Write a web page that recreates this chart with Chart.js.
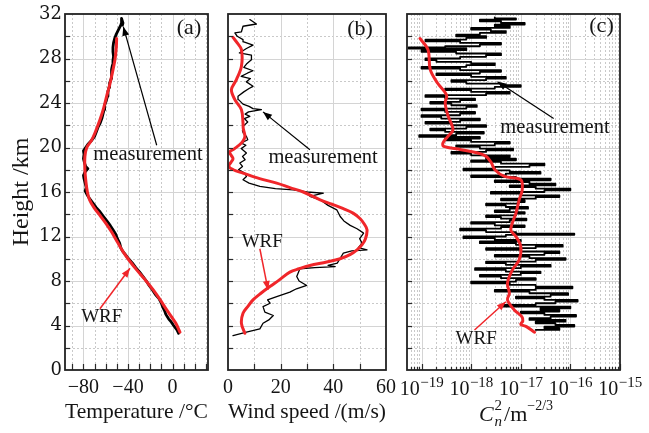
<!DOCTYPE html>
<html><head><meta charset="utf-8">
<script src="https://cdn.jsdelivr.net/npm/chart.js@4"></script>
<style>
html,body{margin:0;padding:0;background:#fff;width:649px;height:433px;overflow:hidden}
canvas.c{position:absolute;left:0;top:0}
</style></head><body>
<canvas id="ca" class="c" width="649" height="433"></canvas>
<canvas id="cb" class="c" width="649" height="433"></canvas>
<canvas id="cc" class="c" width="649" height="433"></canvas>
<script>
// ---------------- data ----------------
const heightLabels = [0, 4, 8, 12, 16, 20, 24, 28, 32];          // km
const tempLabels   = [-80, -40, 0];                               // °C
const windLabels   = [0, 20, 40, 60];                             // m/s
const cn2Labels    = [1e-19, 1e-18, 1e-17, 1e-16, 1e-15];         // m^-2/3

// [height km, temperature °C]
const tempMeasured = [[3.3,5.5],[3.6,4.0],[4.0,1.0],[4.3,-1.0],[4.6,-3.5],[5.0,-6.0],[5.3,-7.0],[5.6,-8.5],[6.0,-10.0],[6.4,-12.0],[6.8,-15.5],[7.2,-18.0],[7.6,-21.0],[8.0,-23.5],[8.4,-26.5],[8.8,-29.5],[9.2,-33.0],[9.6,-36.0],[10.0,-39.5],[10.4,-42.5],[10.7,-45.0],[11.0,-46.5],[11.4,-47.5],[11.8,-49.5],[12.2,-51.0],[12.6,-53.5],[13.0,-56.0],[13.4,-59.0],[13.8,-62.0],[14.2,-65.0],[14.6,-68.5],[15.0,-71.5],[15.4,-74.5],[15.8,-77.0],[16.1,-78.5],[16.4,-77.5],[16.8,-78.5],[17.2,-79.5],[17.5,-80.0],[17.8,-78.5],[18.1,-76.0],[18.3,-78.0],[18.6,-79.0],[19.0,-80.0],[19.4,-79.5],[19.7,-80.0],[20.0,-78.0],[20.3,-76.0],[20.6,-73.0],[21.0,-70.0],[21.4,-68.5],[21.8,-67.0],[22.2,-65.0],[22.6,-63.5],[23.0,-62.5],[23.4,-61.5],[23.8,-61.0],[24.2,-59.5],[24.6,-58.5],[25.0,-58.0],[25.4,-57.0],[25.8,-56.5],[26.2,-55.0],[26.6,-55.0],[27.0,-54.5],[27.4,-54.0],[27.8,-53.5],[28.2,-53.0],[28.6,-53.5],[29.0,-53.5],[29.4,-53.0],[29.8,-52.0],[30.2,-50.5],[30.6,-48.5],[31.0,-46.5],[31.3,-45.5],[31.6,-45.8],[31.2,-44.5],[31.0,-45.0]];
const tempWRF = [[3.4,6.7],[4.2,3.0],[4.8,-1.0],[5.4,-5.2],[6.3,-11.0],[7.2,-17.3],[8.1,-24.5],[9.0,-32.2],[9.8,-38.5],[10.6,-44.2],[11.5,-49.5],[12.4,-54.7],[13.2,-60.0],[13.9,-65.2],[14.6,-70.5],[15.3,-74.5],[16.0,-76.5],[16.9,-77.8],[18.0,-78.7],[19.2,-78.7],[20.0,-77.0],[20.6,-73.0],[21.3,-69.7],[22.5,-65.2],[23.5,-62.0],[24.6,-59.2],[25.6,-56.5],[26.4,-54.7],[27.9,-51.7],[29.0,-50.5],[29.8,-50.2]];

// [height km, wind speed m/s]
const windMeasured = [[3.1,1.9],[3.4,7],[3.7,12.1],[4.2,13.3],[4.5,15.5],[4.9,17.2],[5.2,14],[5.7,13.3],[6.0,16],[6.3,15],[6.6,18.5],[6.8,21],[7.0,23.5],[7.3,26],[7.6,29.9],[8.0,27],[8.4,26.1],[8.8,26.8],[9.1,27.3],[9.2,33],[9.3,40.7],[9.4,38],[9.6,41.5],[10.0,42.5],[10.5,43.8],[10.7,47],[10.8,52.8],[11.0,49.5],[11.4,50.9],[11.8,50],[12.3,51.5],[12.7,49],[13.0,46.4],[13.4,44],[13.8,42.6],[14.4,41.3],[14.8,38],[15.3,35],[15.6,31.1],[15.9,36.2],[16.0,30],[16.2,24.8],[16.3,18],[16.5,12.1],[16.8,8],[17.1,5.7],[17.4,7],[17.7,6.4],[18.0,4],[18.3,5.5],[18.6,4.5],[18.9,6.5],[19.2,5.5],[19.5,7],[19.9,5],[20.2,6.8],[20.4,5.1],[20.7,7.5],[21.0,7],[21.3,5.8],[21.5,5.5],[21.9,5.7],[22.3,7.5],[22.6,6.2],[22.8,8.3],[23.0,6.5],[23.2,7.8],[23.4,12.7],[23.5,9.5],[23.7,8],[23.9,5.7],[24.3,4],[24.6,3.8],[25.0,6],[25.3,8],[25.5,9.5],[25.9,7],[26.2,8.5],[26.4,5],[26.7,7.5],[26.9,9.5],[27.2,6],[27.5,7],[27.9,9],[28.3,8.9],[28.5,4.3],[28.9,7],[29.2,9.5],[29.5,6],[29.7,5.7],[30.0,3.5],[30.3,2.6],[30.4,5.1],[30.9,5.7],[31.1,10.8],[31.5,8.3]];
const windWRF = [[3.3,6.4],[4.2,5.1],[5.1,5.7],[5.7,7.5],[6.3,9.5],[6.9,12.5],[7.5,15.9],[8.1,19.5],[8.8,23.5],[9.1,27],[9.4,31.1],[9.7,37.5],[10.0,42.6],[10.4,46.5],[10.8,49],[11.3,51],[11.8,52.2],[12.6,52.8],[13.1,51.8],[13.6,50.2],[14.1,47.5],[14.5,43.8],[14.9,39.5],[15.3,35],[16.0,28.6],[16.4,23.5],[16.8,18.5],[17.2,12],[17.7,5.7],[18.0,2],[18.3,0.3],[18.7,1.2],[19.0,1.9],[19.3,1.2],[19.6,0.6],[19.9,2.5],[20.4,5.1],[20.8,6.2],[21.1,6.4],[21.7,5.8],[22.2,5.7],[23.4,5.1],[24.3,2.6],[25.2,1.3],[26.1,3.2],[27.3,5.1],[28.8,5.1],[29.4,3.5],[29.9,1.9]];

// [height km, Cn2 m^-2/3]
const cn2Measured = [
 [3.6,2e-17],[3.75,6e-17],[3.9,3e-17],[4.05,1.2e-16],[4.2,5e-17],[4.35,2e-17],[4.5,8e-17],[4.65,1.5e-17],[4.8,4e-17],[4.95,1.3e-16],[5.1,3e-17],[5.25,1e-17],[5.4,6e-17],[5.55,2.5e-17],
 [5.7,1e-16],[5.85,4e-18],[6.0,2e-17],[6.15,5e-17],[6.3,1.4e-16],[6.45,3e-17],[6.6,8e-18],[6.75,4e-17],[6.9,9e-17],[7.05,1.5e-17],[7.2,3e-18],[7.35,2e-17],[7.5,1.1e-16],[7.65,2e-17],
 [7.8,6e-18],[7.95,1e-18],[8.1,8e-18],[8.25,2e-17],[8.4,4e-18],[8.55,1.5e-18],[8.7,1e-17],[8.85,2.5e-17],[9.0,5e-18],[9.15,1.2e-18],
 [9.3,1e-17],[9.45,4e-17],[9.6,5e-18],[9.75,2e-18],[9.9,2e-17],[10.05,8e-17],[10.2,1.5e-17],[10.35,3e-18],[10.5,3e-17],[10.65,6e-17],[10.8,1e-17],[10.95,2e-18],[11.1,2e-17],[11.25,7e-17],[11.4,8e-18],
 [11.55,1.5e-18],[11.7,1e-17],[11.85,3e-18],[12.0,7e-19],[12.15,5e-18],[12.25,1.2e-16],[12.4,8e-18],[12.55,2e-18],[12.7,6e-19],[12.85,4e-18],[13.0,1.2e-17],[13.15,3e-18],[13.3,1e-18],[13.45,6e-18],
 [13.6,1.3e-17],[13.75,4e-18],[13.9,2e-18],[14.05,8e-18],[14.2,1.2e-17],[14.35,3e-18],[14.5,6e-18],[14.65,1.4e-17],[14.8,5e-18],[14.95,2e-18],[15.1,9e-18],[15.25,1.2e-17],
 [15.4,4e-18],[15.55,2e-17],[15.7,6e-17],[15.85,1e-17],[16.0,2.5e-18],[16.15,3e-17],[16.3,1e-16],[16.45,2e-17],[16.6,6e-18],[16.75,5e-17],[16.9,1.5e-17],[17.05,3e-18],[17.2,4e-17],
 [17.35,8e-18],[17.5,1e-18],[17.65,5e-18],[17.8,2.5e-17],[17.95,6e-18],[18.1,7e-19],[18.25,3e-18],[18.4,1.5e-17],[18.55,3e-17],[18.7,4e-18],[18.85,1e-18],[19.0,8e-18],[19.15,2e-18],
 [19.3,6e-18],[19.45,1e-18],[19.6,4e-19],[19.75,2e-18],[19.9,7e-18],[20.05,1.5e-18],[20.2,5e-19],[20.35,3e-18],[20.5,6e-18],[20.65,1e-18],[20.8,3e-19],[20.95,1.5e-18],
 [21.1,9e-20],[21.25,5e-19],[21.4,1.8e-18],[21.55,3e-19],[21.7,1.5e-19],[21.85,8e-19],[22.0,2e-18],[22.15,4e-19],[22.3,1.2e-19],[22.45,6e-19],[22.6,1.5e-18],[22.75,2.5e-19],[22.9,1e-19],
 [23.05,6e-19],[23.2,1.2e-18],[23.35,3e-19],[23.5,1e-19],[23.65,8e-19],[23.8,1.3e-18],[23.95,4e-19],[24.1,1.5e-19],[24.25,6e-19],[24.4,1.2e-18],[24.55,3e-19],[24.7,1.2e-19],
 [24.85,2e-18],[25.0,6e-18],[25.15,1e-18],[25.3,3e-19],[25.45,3e-18],[25.6,1e-17],[25.75,4e-18],[25.9,8e-19],[26.05,4e-19],[26.2,2e-18],[26.35,5e-18],
 [26.5,1e-18],[26.65,2e-19],[26.8,1.5e-18],[26.95,4e-18],[27.1,6e-19],[27.25,1e-19],[27.4,8e-19],[27.55,3e-18],[27.7,1e-18],[27.85,2e-19],[28.0,1.2e-19],[28.15,6e-19],[28.3,2e-18],[28.45,4e-18],[28.6,5e-19],[28.75,1e-19],[28.9,8e-19],
 [29.0,5.5e-20],[29.1,3e-19],[29.25,1.5e-18],[29.4,4e-18],[29.55,6e-19],[29.7,1.2e-19],[29.85,8e-19],
 [30.0,2e-18],[30.15,5e-19],[30.3,1.5e-18],[30.45,5e-18],[30.6,2.5e-18],[30.75,1e-18],[30.9,6e-18],[31.05,3e-18],[31.2,1.2e-17],[31.35,4e-18],[31.5,1.5e-18],[31.6,8e-18],[31.7,3e-18]];
const cn2WRF = [[3.4,1.9e-17],[3.9,1.3e-17],[4.1,1.0e-17],[4.4,1.1e-17],[4.8,1.05e-17],[5.4,7.4e-18],[6.3,5.4e-18],[6.9,5.9e-18],[7.8,5.4e-18],[9.0,6.8e-18],[9.9,9.3e-18],[11.1,1.0e-17],[12.0,8e-18],[12.6,6.3e-18],[14.1,8e-18],[15.3,9.3e-18],[16.2,1.07e-17],[17.1,1.0e-17],[17.4,4.7e-18],[18.0,3e-18],[18.7,2.5e-18],[19.3,1.86e-18],[19.8,6.3e-19],[20.1,2.8e-19],[20.4,2.7e-19],[21.0,3.4e-19],[21.6,4.3e-19],[22.9,3.4e-19],[24.0,3e-19],[24.7,3.2e-19],[25.8,2.1e-19],[27.0,1.5e-19],[28.8,1.35e-19],[29.8,9.3e-20]];

// ---------------- styling / helpers ----------------
const RED = '#f0262a';
const INK = '#151515';
const SERIF = '"Liberation Serif", "DejaVu Serif", serif';
const toXY = arr => arr.map(p => ({x: p[1], y: p[0]}));
const minus = v => v < 0 ? '\u2212' + Math.abs(v) : String(v);
const expOf = v => Math.round(Math.log10(v));

function range(a, b, s){ const r=[]; for(let v=a; v<=b+1e-9; v+=s) r.push(+v.toFixed(6)); return r; }
const yTickVals  = range(2, 30, 2);
const yMajorGrid = range(4, 28, 4);
const yMinorGrid = range(2, 30, 4);
const logMinor = []; for (let e=-20; e<=-16; e++) for (let k=2; k<=9; k++) { const v=k*Math.pow(10,e); if (v>5.1e-20 && v<1e-15) logMinor.push(v); }

function arrowHead(ctx, x0, y0, x1, y1, len, wid){
  const a = Math.atan2(y1-y0, x1-x0);
  ctx.beginPath();
  ctx.moveTo(x1, y1);
  ctx.lineTo(x1 - len*Math.cos(a) + wid*Math.sin(a), y1 - len*Math.sin(a) - wid*Math.cos(a));
  ctx.lineTo(x1 - len*Math.cos(a) - wid*Math.sin(a), y1 - len*Math.sin(a) + wid*Math.cos(a));
  ctx.closePath(); ctx.fill();
}

function decor(spec){
  return {
    id: 'decor',
    beforeDatasetsDraw(chart){
      const {ctx, chartArea:a, scales:{x, y}} = chart;
      ctx.save();
      ctx.beginPath(); ctx.rect(a.left, a.top, a.right-a.left, a.bottom-a.top); ctx.clip();
      ctx.lineWidth = 1;
      const vline = v => { const p = Math.round(x.getPixelForValue(v)) + 0.5; ctx.beginPath(); ctx.moveTo(p, a.top); ctx.lineTo(p, a.bottom); ctx.stroke(); };
      const hline = v => { const p = Math.round(y.getPixelForValue(v)) + 0.5; ctx.beginPath(); ctx.moveTo(a.left, p); ctx.lineTo(a.right, p); ctx.stroke(); };
      ctx.strokeStyle = '#c9c9c9'; ctx.setLineDash([2, 2]);
      spec.xMinorGrid.forEach(vline); yMinorGrid.forEach(hline);
      ctx.setLineDash([]); ctx.strokeStyle = '#d4d4d4';
      spec.xMajorGrid.forEach(vline); yMajorGrid.forEach(hline);
      ctx.restore();
    },
    afterDatasetsDraw(chart){
      const {ctx, chartArea:a, scales:{x, y}} = chart;
      ctx.save();
      ctx.strokeStyle = '#2a2a2a'; ctx.lineWidth = 1.2;
      spec.xTicks.forEach(t => { const p = Math.round(x.getPixelForValue(t.v)) + 0.5; ctx.beginPath(); ctx.moveTo(p, a.bottom); ctx.lineTo(p, a.bottom - t.len); ctx.stroke(); });
      yTickVals.forEach(v => { const p = Math.round(y.getPixelForValue(v)) + 0.5; ctx.beginPath(); ctx.moveTo(a.left, p); ctx.lineTo(a.left + 5, p); ctx.stroke(); });
      ctx.lineWidth = 1.8; ctx.strokeStyle = '#222';
      ctx.strokeRect(a.left, a.top, a.right - a.left, a.bottom - a.top);
      ctx.restore();
    },
    afterDraw(chart){
      const {ctx, chartArea:a, scales:{x, y}} = chart;
      ctx.save();
      ctx.textAlign = 'center'; ctx.textBaseline = 'middle';
      ctx.fillStyle = INK; ctx.font = '22px ' + SERIF;
      ctx.fillText(spec.panel, a.right + spec.panelDx, a.top + spec.panelDy);
      spec.notes.forEach(n => {
        const col = n.red ? RED : '#000';
        const fx = x.getPixelForValue(n.from[0]), fy = y.getPixelForValue(n.from[1]);
        const tx = x.getPixelForValue(n.to[0]),   ty = y.getPixelForValue(n.to[1]);
        ctx.strokeStyle = col; ctx.fillStyle = col; ctx.lineWidth = n.red ? 1.5 : 1.2;
        ctx.beginPath(); ctx.moveTo(fx, fy); ctx.lineTo(tx, ty); ctx.stroke();
        arrowHead(ctx, fx, fy, tx, ty, 9, 3.5);
        ctx.fillStyle = INK; ctx.font = n.size + 'px ' + SERIF;
        ctx.fillText(n.text, x.getPixelForValue(n.at[0]), y.getPixelForValue(n.at[1]));
      });
      if (spec.cnTitle) {
        const w = (f, s) => { ctx.font = f; return ctx.measureText(s).width; };
        // decade tick labels 10^n with real superscript
        const fBase = '20px ' + SERIF, fSup = '15px ' + SERIF, base = a.bottom + 25;
        ctx.textAlign = 'left'; ctx.textBaseline = 'alphabetic'; ctx.fillStyle = INK;
        cn2Labels.forEach(v => {
          const e = '\u2212' + Math.abs(expOf(v));
          const wb = w(fBase, '10'), we = w(fSup, e);
          const x0 = x.getPixelForValue(v) - (wb + we) / 2;
          ctx.font = fBase; ctx.fillText('10', x0, base);
          ctx.font = fSup; ctx.fillText(e, x0 + wb + 0.5, base - 8);
        });
        // axis title C_n^2 / m^-2/3
        const cx = 516, tb = 421;
        const fBig = '22px ' + SERIF, fIt = 'italic 22px ' + SERIF, fSm = '15px ' + SERIF, fSmIt = 'italic 15px ' + SERIF, fExp = '14px ' + SERIF;
        const wC = w(fIt, 'C'), wSub = Math.max(w(fSmIt, 'n'), w(fSm, '2')), wM = w(fBig, '/m'), wE = w(fExp, '\u22122/3');
        const total = wC + 1 + wSub + 2 + wM + wE;
        const x0 = cx - total/2;
        ctx.font = fIt; ctx.fillText('C', x0, tb);
        ctx.font = fSmIt; ctx.fillText('n', x0 + wC + 1, tb + 5);
        ctx.font = fSm; ctx.fillText('2', x0 + wC + 1, tb - 11);
        ctx.font = fBig; ctx.fillText('/m', x0 + wC + 1 + wSub + 2, tb);
        ctx.font = fExp; ctx.fillText('\u22122/3', x0 + wC + 1 + wSub + 2 + wM, tb - 11);
      }
      ctx.restore();
    }
  };
}

const tickFont = {family: SERIF, size: 20};
function yScale(show){
  return {
    type: 'linear', min: 0, max: 32, display: show,
    grid: {display: false, drawTicks: false}, border: {display: false},
    afterBuildTicks: s => { s.ticks = heightLabels.map(v => ({value: v})); },
    afterFit: s => { s.width = show ? 65 : 0; },
    ticks: {autoSkip: false, padding: 3, color: INK, font: {family: '"DejaVu Serif", serif', size: 18}},
    title: {display: show, text: 'Height /km', color: INK, font: {family: SERIF, size: 24}, padding: {top: 7, bottom: 0}}
  };
}
function xTitle(text){ return {display: !!text, text: text || '', color: INK, font: {family: SERIF, size: 22}, padding: {top: 0, bottom: 8}}; }
function lineSet(data, color, width, tension, order, stepped){
  return {data: toXY(data), showLine: true, borderColor: color, backgroundColor: color, borderWidth: width, pointRadius: 0, tension: tension, order: order, stepped: !!stepped, borderJoinStyle: 'round', borderCapStyle: 'round'};
}
const common = {responsive: false, animation: false, devicePixelRatio: 1, events: [],
  plugins: {legend: {display: false}, tooltip: {enabled: false}}};

// ---------- (a) temperature ----------
new Chart(document.getElementById('ca'), {
  type: 'scatter',
  data: {datasets: [lineSet(tempMeasured, '#000', 2.8, 0, 2), lineSet(tempWRF, RED, 3, 0.35, 1)]},
  options: Object.assign({}, common, {
    layout: {padding: {left: 0, top: 14, right: 649 - 208, bottom: 0}},
    scales: {
      x: {type: 'linear', min: -96.6, max: 31.9,
          grid: {display: false, drawTicks: false}, border: {display: false},
          afterBuildTicks: s => { s.ticks = tempLabels.map(v => ({value: v})); },
          afterFit: s => { s.height = 63; },
          ticks: {autoSkip: false, maxRotation: 0, padding: 6, color: INK, font: tickFont, callback: v => minus(v)},
          title: xTitle('Temperature /\u00B0C')},
      y: yScale(true)
    }
  }),
  plugins: [decor({
    panel: '(a)', panelDx: -19, panelDy: 14,
    xTicks: range(-90, 30, 10).map(v => ({v, len: 6})),
    xMajorGrid: [-80, -40, 0], xMinorGrid: [-90, -70, -60, -50, -30, -20, -10, 10, 20, 30],
    notes: [
      {text: 'measurement', size: 20.5, at: [-22, 19.4], from: [-14.2, 20.2], to: [-44.2, 30.86]},
      {text: 'WRF', size: 19, red: true, at: [-63.6, 4.8], from: [-65.2, 5.5], to: [-38.2, 9.14]}
    ]
  })]
});

// ---------- (b) wind speed ----------
new Chart(document.getElementById('cb'), {
  type: 'scatter',
  data: {datasets: [lineSet(windMeasured, '#000', 1.3, 0, 2), lineSet(windWRF, RED, 3, 0.35, 1)]},
  options: Object.assign({}, common, {
    layout: {padding: {left: 228, top: 14, right: 649 - 386, bottom: 0}},
    scales: {
      x: {type: 'linear', min: 0, max: 60,
          grid: {display: false, drawTicks: false}, border: {display: false},
          afterBuildTicks: s => { s.ticks = windLabels.map(v => ({value: v})); },
          afterFit: s => { s.height = 63; },
          ticks: {autoSkip: false, maxRotation: 0, padding: 6, color: INK, font: tickFont},
          title: xTitle('Wind speed /(m/s)')},
      y: yScale(false)
    }
  }),
  plugins: [decor({
    panel: '(b)', panelDx: -26, panelDy: 15,
    xTicks: [10, 20, 30, 40, 50].map(v => ({v, len: 6})),
    xMajorGrid: [20, 40], xMinorGrid: [10, 30, 50],
    notes: [
      {text: 'measurement', size: 20.5, at: [36.1, 19.06], from: [31.1, 19.8], to: [13.3, 23.2]},
      {text: 'WRF', size: 19, red: true, at: [13.0, 11.53], from: [12.1, 10.9], to: [15.2, 7.2]}
    ]
  })]
});

// ---------- (c) Cn2 ----------
new Chart(document.getElementById('cc'), {
  type: 'scatter',
  data: {datasets: [lineSet(cn2Measured, '#000', 1.8, 0, 2, true), lineSet(cn2WRF, RED, 3, 0.35, 1)]},
  options: Object.assign({}, common, {
    layout: {padding: {left: 407, top: 14, right: 649 - 620, bottom: 0}},
    scales: {
      x: {type: 'logarithmic', min: 5.1e-20, max: 1e-15,
          grid: {display: false, drawTicks: false}, border: {display: false},
          afterBuildTicks: s => { s.ticks = cn2Labels.map(v => ({value: v})); },
          afterFit: s => { s.height = 63; },
          ticks: {display: false},
          title: xTitle('')},
      y: yScale(false)
    }
  }),
  plugins: [decor({
    panel: '(c)', panelDx: -18.5, panelDy: 12, cnTitle: true,
    xTicks: cn2Labels.map(v => ({v, len: 6})).concat(logMinor.map(v => ({v, len: 3}))),
    xMajorGrid: cn2Labels, xMinorGrid: logMinor,
    notes: [
      {text: 'measurement', size: 20.5, at: [4.9e-17, 21.8], from: [4.6e-17, 22.6], to: [3.4e-18, 25.9]},
      {text: 'WRF', size: 19, red: true, at: [1.26e-18, 2.8], from: [1.17e-18, 3.6], to: [5e-18, 6.14]}
    ]
  })]
});
</script>
</body></html>
